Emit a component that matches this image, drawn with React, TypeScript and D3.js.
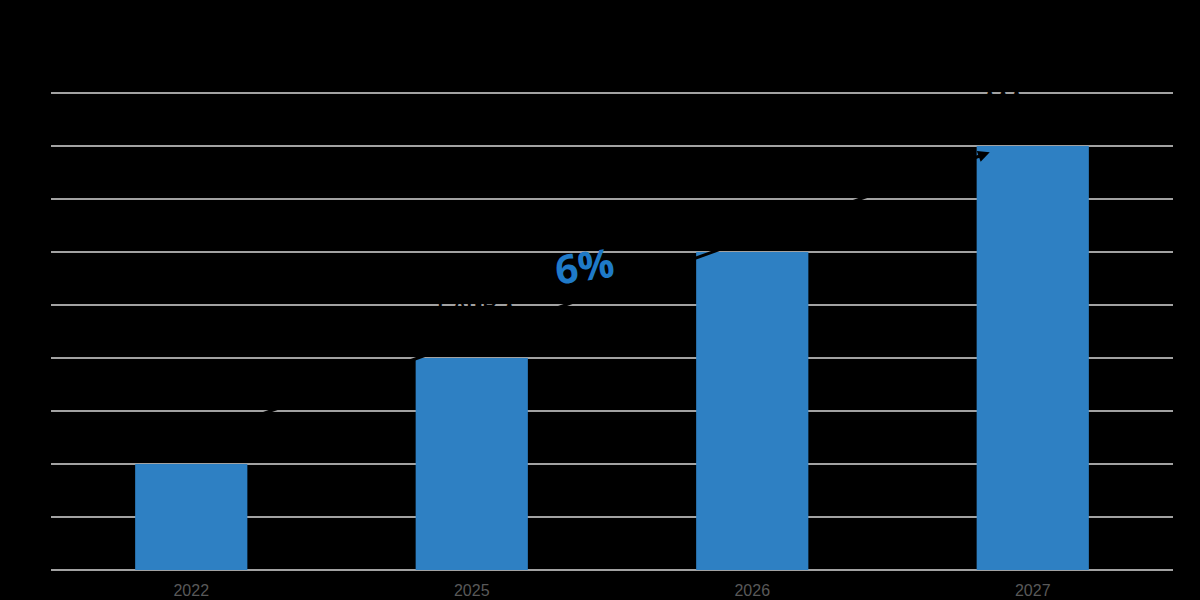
import React from "react";
import * as d3 from "d3";

const categories = ["2022", "2025", "2026", "2027"];
const values = [2, 4, 6, 8];
const yTicks = [0, 1, 2, 3, 4, 5, 6, 7, 8, 9];
const cagrLabel = "6%";
const arrowFrom = { cat: "2022", value: 2.87 };
const arrowTo = { cat: "2027", value: 7.88 };

export default function App() {
  const W = 1200, H = 600;
  const left = 51, right = 1173, top = 93, bottom = 570;
  const x = d3.scaleBand<string>().domain(categories).range([left, right]).padding(0);
  const y = d3.scaleLinear().domain([0, 9]).range([bottom, top]);
  const bw = x.bandwidth() * 0.4;
  const cx = (c: string) => (x(c) as number) + x.bandwidth() / 2;

  const x1 = cx(arrowFrom.cat) + 60, y1 = y(arrowFrom.value);
  const x2 = cx(arrowTo.cat) - 43, y2 = y(arrowTo.value);
  const ang = Math.atan2(y2 - y1, x2 - x1);
  const ah = 13;
  const head = [
    [x2, y2],
    [x2 - ah * Math.cos(ang - 0.45), y2 - ah * Math.sin(ang - 0.45)],
    [x2 - ah * Math.cos(ang + 0.45), y2 - ah * Math.sin(ang + 0.45)],
  ];

  return (
    <svg width={W} height={H} style={{ position: "absolute", left: 0, top: 0, background: "#000" }}>
      <rect x={0} y={0} width={W} height={H} fill="#000" />
      {yTicks.map((t) => (
        <g key={t}>
          <line x1={left} x2={right} y1={y(t)} y2={y(t)} stroke="#d9d9d9" strokeWidth={1.5} />
          <text x={left - 4} y={y(t)} dy="0.35em" textAnchor="end" fontFamily="Liberation Sans, Arial, sans-serif" fontSize={14} fill="#000">{t}</text>
        </g>
      ))}
      {categories.map((c, i) => (
        <rect key={c} x={cx(c) - bw / 2} y={y(values[i])} width={bw} height={bottom - y(values[i])} fill="#2e80c3" />
      ))}
      {categories.map((c) => (
        <text key={c} x={cx(c)} y={596} textAnchor="middle" fontFamily="Liberation Sans, Arial, sans-serif" fontSize={16} fill="#595959">{c}</text>
      ))}
      <text x={477} y={y(5)} dy="0.35em" textAnchor="middle" fontFamily="Liberation Sans, Arial, sans-serif" fontSize={20} fontWeight="bold" fill="#000">CAGR X</text>
      <text x={1003} y={y(9)} dy="0.35em" textAnchor="middle" fontFamily="Liberation Sans, Arial, sans-serif" fontSize={20} fontWeight="bold" fill="#000">XXX</text>
      <line x1={x1} y1={y1} x2={x2 - 7 * Math.cos(ang)} y2={y2 - 7 * Math.sin(ang)} stroke="#000" strokeWidth={3} />
      <polygon points={head.map((p) => p.join(",")).join(" ")} fill="#000" />
      <text x={585} y={270} textAnchor="middle" dominantBaseline="middle" transform="rotate(-8 585 270)" fontFamily="Open Sans, Noto Sans, sans-serif" fontSize={40} fontWeight="bold" fill="#1f7ac8">{cagrLabel}</text>
    </svg>
  );
}
